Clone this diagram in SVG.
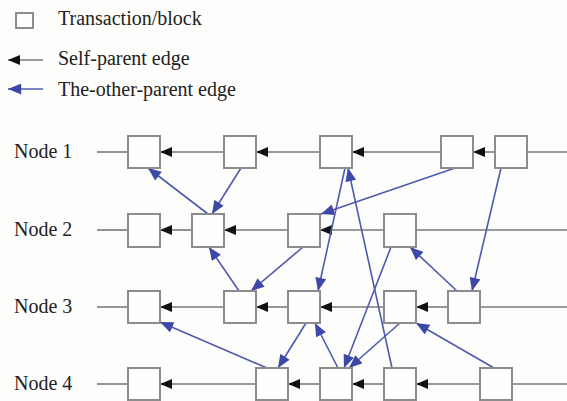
<svg xmlns="http://www.w3.org/2000/svg" width="567" height="401" viewBox="0 0 567 401">
<style>
.bg{fill:#fdfdfb}
.box{fill:#fefefe;stroke:#8c8c8c;stroke-width:2}
.t{font-family:"Liberation Serif","Times New Roman",serif;font-size:20px;fill:#222}
.sp{stroke:#7a7a7a;stroke-width:1.6;fill:none}
.op{stroke:#4f5aae;stroke-width:1.5;fill:none}
.spa{stroke:#7a7a7a;stroke-width:1.6;fill:none;marker-end:url(#ab)}
.opa{stroke:#4f5aae;stroke-width:1.6;fill:none;marker-end:url(#au)}
</style>
<defs>
<marker id="ab" viewBox="0 0 12 10" refX="12" refY="5" markerWidth="13" markerHeight="10" markerUnits="userSpaceOnUse" orient="auto">
<path d="M0,0 L12,5 L0,10 z" fill="#111"/>
</marker>
<marker id="au" viewBox="0 0 12 10" refX="12" refY="5" markerWidth="14" markerHeight="11" markerUnits="userSpaceOnUse" orient="auto">
<path d="M0,0 L12,5 L0,10 z" fill="#3d48a8"/>
</marker>
</defs>
<rect class="bg" x="0" y="0" width="567" height="401"/>

<g id="legend">
<rect class="box" x="16" y="13" width="17" height="15" stroke-width="1.6"/>
<text class="t" x="58" y="25">Transaction/block</text>
<line class="spa" x1="43" y1="60" x2="8" y2="60"/>
<text class="t" x="58" y="65">Self-parent edge</text>
<line class="opa" x1="43" y1="89" x2="8" y2="89"/>
<text class="t" x="58" y="96">The-other-parent edge</text>
</g>

<g id="labels">
<text class="t" x="14" y="158">Node 1</text>
<text class="t" x="14" y="236">Node 2</text>
<text class="t" x="14" y="313">Node 3</text>
<text class="t" x="14" y="390">Node 4</text>
</g>

<g id="connectors">
<line class="sp" x1="97" y1="152" x2="128" y2="152"/>
<line class="spa" x1="224" y1="152" x2="160" y2="152"/>
<line class="spa" x1="320" y1="152" x2="256" y2="152"/>
<line class="spa" x1="441" y1="152" x2="352" y2="152"/>
<line class="spa" x1="495" y1="152" x2="473" y2="152"/>
<line class="sp" x1="527" y1="152" x2="567" y2="152"/>
<line class="sp" x1="97" y1="230" x2="128" y2="230"/>
<line class="spa" x1="192" y1="230" x2="160" y2="230"/>
<line class="spa" x1="288" y1="230" x2="224" y2="230"/>
<line class="spa" x1="384" y1="230" x2="320" y2="230"/>
<line class="sp" x1="416" y1="230" x2="567" y2="230"/>
<line class="sp" x1="97" y1="307" x2="128" y2="307"/>
<line class="spa" x1="224" y1="307" x2="160" y2="307"/>
<line class="spa" x1="288" y1="307" x2="256" y2="307"/>
<line class="spa" x1="384" y1="307" x2="320" y2="307"/>
<line class="spa" x1="448" y1="307" x2="416" y2="307"/>
<line class="sp" x1="480" y1="307" x2="567" y2="307"/>
<line class="sp" x1="97" y1="384" x2="128" y2="384"/>
<line class="spa" x1="256" y1="384" x2="160" y2="384"/>
<line class="spa" x1="320" y1="384" x2="288" y2="384"/>
<line class="spa" x1="384" y1="384" x2="352" y2="384"/>
<line class="spa" x1="480" y1="384" x2="416" y2="384"/>
<line class="sp" x1="512" y1="384" x2="567" y2="384"/>
<line class="opa" x1="208" y1="214" x2="148" y2="168"/>
<line class="opa" x1="241" y1="168" x2="212" y2="214"/>
<line class="opa" x1="239" y1="291" x2="209" y2="247"/>
<line class="opa" x1="303" y1="247" x2="251" y2="291"/>
<line class="opa" x1="455" y1="168" x2="321" y2="214"/>
<line class="opa" x1="345" y1="168" x2="318" y2="291"/>
<line class="opa" x1="392" y1="368" x2="348" y2="168"/>
<line class="opa" x1="391" y1="247" x2="344" y2="368"/>
<line class="opa" x1="400" y1="323" x2="349" y2="368"/>
<line class="opa" x1="338" y1="368" x2="315" y2="323"/>
<line class="opa" x1="306" y1="323" x2="278" y2="368"/>
<line class="opa" x1="267" y1="368" x2="160" y2="322"/>
<line class="opa" x1="501" y1="168" x2="472" y2="291"/>
<line class="opa" x1="457" y1="291" x2="410" y2="247"/>
<line class="opa" x1="494" y1="368" x2="416" y2="323"/>
</g>

<g id="A1"><rect class="box" x="128" y="136" width="32" height="32"/></g>
<g id="A2"><rect class="box" x="224" y="136" width="32" height="32"/></g>
<g id="A3"><rect class="box" x="320" y="136" width="32" height="32"/></g>
<g id="A4"><rect class="box" x="441" y="136" width="32" height="32"/></g>
<g id="A5"><rect class="box" x="495" y="136" width="32" height="32"/></g>

<g id="B1"><rect class="box" x="128" y="214" width="32" height="33"/></g>
<g id="B2"><rect class="box" x="192" y="214" width="32" height="33"/></g>
<g id="B3"><rect class="box" x="288" y="214" width="32" height="33"/></g>
<g id="B4"><rect class="box" x="384" y="214" width="32" height="33"/></g>

<g id="C1"><rect class="box" x="128" y="291" width="32" height="32"/></g>
<g id="C2"><rect class="box" x="224" y="291" width="32" height="32"/></g>
<g id="C3"><rect class="box" x="288" y="291" width="32" height="32"/></g>
<g id="C4"><rect class="box" x="384" y="291" width="32" height="32"/></g>
<g id="C5"><rect class="box" x="448" y="291" width="32" height="32"/></g>

<g id="D1"><rect class="box" x="128" y="368" width="32" height="32"/></g>
<g id="D2"><rect class="box" x="256" y="368" width="32" height="32"/></g>
<g id="D3"><rect class="box" x="320" y="368" width="32" height="32"/></g>
<g id="D4"><rect class="box" x="384" y="368" width="32" height="32"/></g>
<g id="D5"><rect class="box" x="480" y="368" width="32" height="32"/></g>
</svg>
